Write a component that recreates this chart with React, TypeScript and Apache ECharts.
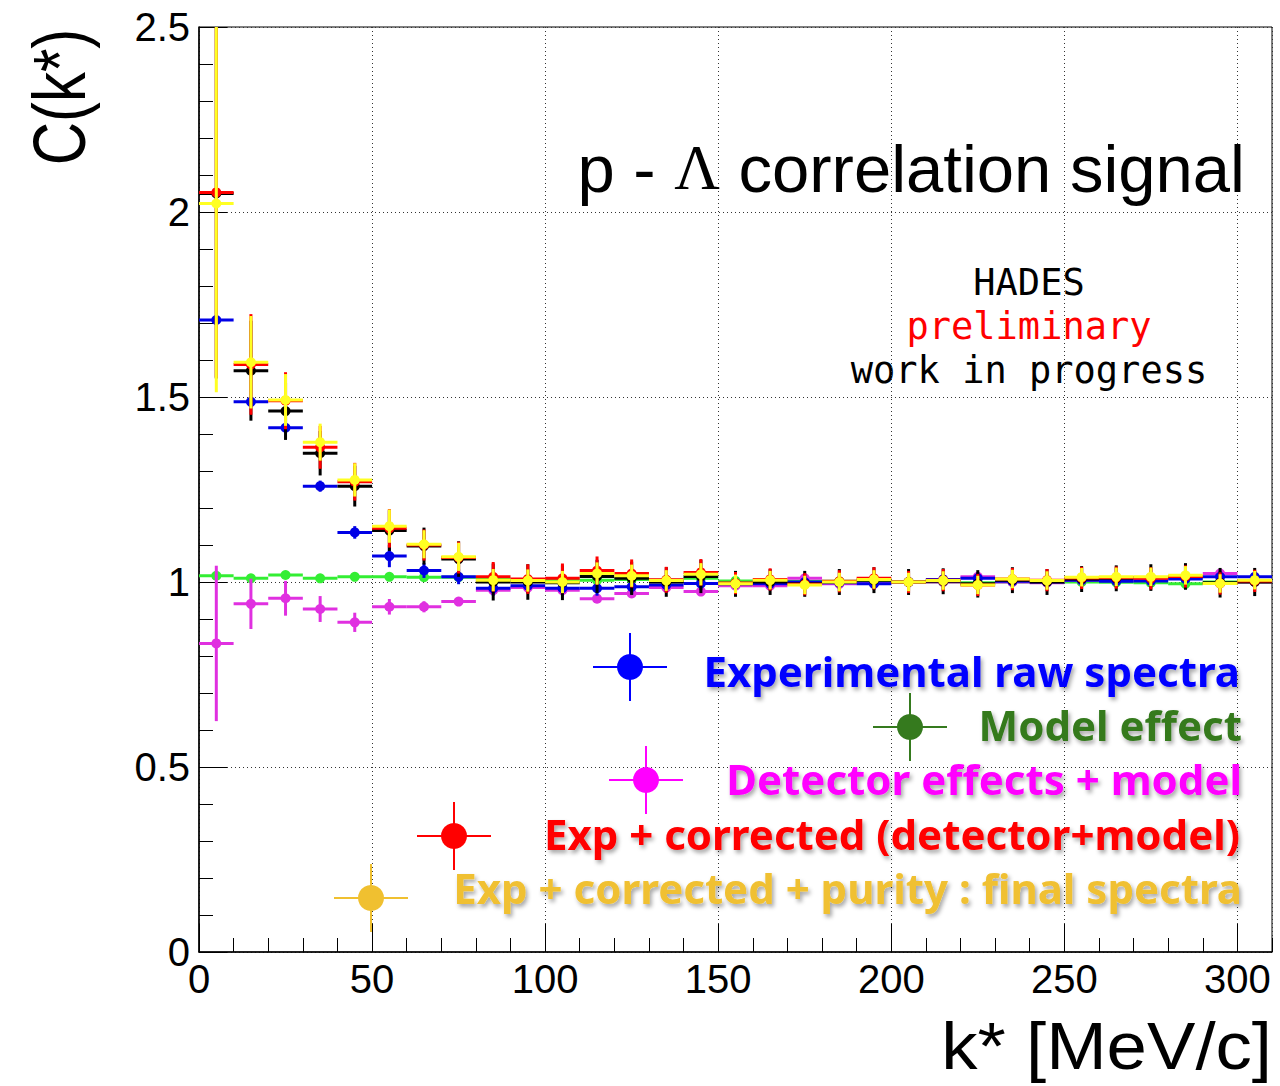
import React, { useEffect, useRef } from "react";
import * as echarts from "echarts";

// ---------- data ----------
const kStar = [5, 15, 25, 35, 45, 55, 65, 75, 85, 95, 105, 115, 125, 135, 145, 155, 165, 175, 185, 195, 205, 215, 225, 235, 245, 255, 265, 275, 285, 295, 305];

const modelC = [1.017, 1.010, 1.019, 1.010, 1.014, 1.014, 1.013, 1.013, 1.008, 1.006, 1.005, 1.005, 1.007, 1.005, 1.010, 1.003, 1.000, 1.002, 1.002, 0.998, 1.000, 1.000, 0.998, 1.000, 1.000, 1.000, 0.999, 0.998, 0.995, 1.000, 1.000];
const modelErr = [0.004, 0.003, 0.003, 0.003, 0.003, 0.003, 0.003, 0.003, 0.003, 0.003, 0.003, 0.003, 0.003, 0.003, 0.003, 0.003, 0.003, 0.003, 0.003, 0.003, 0.003, 0.003, 0.003, 0.003, 0.003, 0.003, 0.003, 0.003, 0.003, 0.003, 0.003];

const detC = [0.834, 0.941, 0.956, 0.927, 0.891, 0.933, 0.933, 0.947, 0.978, 0.985, 0.978, 0.955, 0.969, 0.985, 0.974, 0.990, 0.990, 1.010, 0.995, 0.996, 1.000, 1.000, 1.014, 1.000, 0.998, 1.005, 1.005, 1.008, 1.012, 1.023, 1.000];
const detErr = [0.21, 0.068, 0.047, 0.035, 0.026, 0.021, 0.015, 0.012, 0.010, 0.010, 0.010, 0.010, 0.010, 0.010, 0.010, 0.010, 0.010, 0.010, 0.010, 0.010, 0.010, 0.010, 0.010, 0.010, 0.010, 0.010, 0.010, 0.010, 0.010, 0.010, 0.010];

const rawC = [1.708, 1.487, 1.417, 1.259, 1.134, 1.070, 1.031, 1.014, 0.983, 0.990, 0.983, 0.983, 0.987, 0.992, 0.996, 0.995, 0.995, 1.000, 0.998, 0.995, 1.000, 1.007, 1.010, 1.002, 1.000, 1.005, 1.002, 1.003, 1.008, 1.014, 1.014];
const rawErr = [0.012, 0.012, 0.015, 0.015, 0.017, 0.03, 0.02, 0.02, 0.02, 0.02, 0.02, 0.02, 0.02, 0.018, 0.018, 0.016, 0.016, 0.016, 0.016, 0.016, 0.016, 0.016, 0.016, 0.016, 0.016, 0.016, 0.016, 0.016, 0.016, 0.016, 0.016];

const blackC = [2.05, 1.571, 1.462, 1.348, 1.259, 1.139, 1.097, 1.062, 1.000, 1.000, 0.998, 1.015, 1.010, 1.000, 1.015, 0.995, 1.000, 0.995, 1.000, 1.005, 1.000, 1.002, 0.995, 1.005, 1.000, 1.008, 1.010, 1.012, 1.015, 0.998, 1.000];
const blackErr = [0.5, 0.135, 0.078, 0.06, 0.055, 0.055, 0.05, 0.048, 0.05, 0.048, 0.047, 0.045, 0.045, 0.04, 0.045, 0.035, 0.035, 0.035, 0.035, 0.035, 0.035, 0.035, 0.037, 0.035, 0.035, 0.035, 0.035, 0.036, 0.036, 0.04, 0.038];

const corrC = [2.053, 1.588, 1.490, 1.364, 1.271, 1.145, 1.100, 1.066, 1.014, 1.008, 1.010, 1.031, 1.023, 1.006, 1.026, 0.997, 1.007, 0.994, 1.002, 1.010, 1.000, 1.005, 0.992, 1.008, 1.005, 1.011, 1.012, 1.010, 1.015, 0.996, 1.003];
const corrErr = [0.5, 0.136, 0.077, 0.058, 0.051, 0.052, 0.042, 0.043, 0.04, 0.04, 0.04, 0.038, 0.038, 0.035, 0.036, 0.03, 0.03, 0.03, 0.03, 0.03, 0.03, 0.03, 0.03, 0.03, 0.03, 0.03, 0.03, 0.03, 0.03, 0.03, 0.03];

const finalC = [2.023, 1.594, 1.492, 1.378, 1.276, 1.151, 1.102, 1.068, 1.005, 1.004, 1.000, 1.023, 1.017, 1.004, 1.021, 0.995, 1.005, 0.992, 1.000, 1.007, 1.000, 1.004, 0.992, 1.008, 1.004, 1.013, 1.014, 1.014, 1.018, 0.996, 1.005];
const finalErr = [0.51, 0.125, 0.07, 0.05, 0.045, 0.045, 0.038, 0.038, 0.03, 0.03, 0.03, 0.03, 0.03, 0.028, 0.03, 0.025, 0.025, 0.025, 0.025, 0.025, 0.025, 0.025, 0.025, 0.025, 0.025, 0.025, 0.025, 0.025, 0.025, 0.025, 0.025];

const legendLabels = [
  "Experimental raw spectra",
  "Model effect",
  "Detector effects + model",
  "Exp + corrected (detector+model)",
  "Exp + corrected + purity : final spectra",
];

// ---------- constants ----------
const BIN_HALF = 5;
const X_MIN = 0;
const X_MAX = 310;
const Y_MIN = 0;
const Y_MAX = 2.5;

function build(xs: number[], ys: number[], es: number[]) {
  return xs.map((x, i) => [x, ys[i], es[i]]);
}

function makeRender(color: string, r: number, lw: number) {
  return (params: any, api: any) => {
    const x = api.value(0);
    const y = api.value(1);
    const e = api.value(2);
    const hi = Math.min(y + e, Y_MAX);
    const lo = Math.max(y - e, Y_MIN);
    const l = api.coord([x - BIN_HALF, y]);
    const rr = api.coord([x + BIN_HALF, y]);
    const t = api.coord([x, hi]);
    const b = api.coord([x, lo]);
    const c = api.coord([x, y]);
    return {
      type: "group",
      children: [
        { type: "line", shape: { x1: l[0], y1: l[1], x2: rr[0], y2: rr[1] }, style: { stroke: color, lineWidth: lw } },
        { type: "line", shape: { x1: t[0], y1: t[1], x2: b[0], y2: b[1] }, style: { stroke: color, lineWidth: lw } },
        { type: "circle", shape: { cx: c[0], cy: c[1], r }, style: { fill: color } },
      ],
    };
  };
}

function errSeries(name: string, data: number[][], color: string, z: number) {
  return {
    name,
    type: "custom",
    xAxisIndex: 0,
    yAxisIndex: 0,
    silent: true,
    z,
    encode: { x: 0, y: 1 },
    data,
    renderItem: makeRender(color, 5, 3),
  };
}

function legendItem(label: string, color: string, mx: number, my: number, tx: number, ty: number) {
  return [
    { type: "line", shape: { x1: mx - 37, y1: my, x2: mx + 37, y2: my }, style: { stroke: color, lineWidth: 2 }, z: 100 },
    { type: "line", shape: { x1: mx, y1: my - 34, x2: mx, y2: my + 34 }, style: { stroke: color, lineWidth: 2 }, z: 100 },
    { type: "circle", shape: { cx: mx, cy: my, r: 13 }, style: { fill: color }, z: 100 },
    {
      type: "text",
      x: tx,
      y: ty,
      z: 100,
      style: {
        text: label,
        fill: color,
        fontSize: 42,
        fontWeight: "bold",
        fontFamily: "Noto Sans",
        align: "right",
        verticalAlign: "middle",
        textShadowColor: "rgba(0,0,0,0.35)",
        textShadowBlur: 4,
        textShadowOffsetX: 2,
        textShadowOffsetY: 3,
      },
    },
  ];
}

export default function App() {
  const ref = useRef<HTMLDivElement>(null);
  useEffect(() => {
    if (!ref.current) return;
    const chart = echarts.init(ref.current, null, { renderer: "svg" });
    const axisFont = { fontSize: 40, color: "#000", fontFamily: "Liberation Sans" };
    const option: any = {
      animation: false,
      backgroundColor: "#fff",
      grid: { left: 199, top: 27, right: 8, bottom: 134, show: true, borderColor: "#000", borderWidth: 1, backgroundColor: "transparent" },
      xAxis: [
        {
          type: "value",
          min: X_MIN,
          max: X_MAX,
          interval: 10,
          position: "bottom",
          axisLine: { show: true, lineStyle: { color: "#000", width: 1.5 } },
          axisTick: { show: true, inside: true, length: 14, lineStyle: { color: "#000", width: 1 } },
          axisLabel: { show: false },
          splitLine: { show: false },
        },
        {
          type: "value",
          min: X_MIN,
          max: X_MAX,
          interval: 50,
          position: "bottom",
          axisLine: { show: false },
          axisTick: { show: true, inside: true, length: 28, lineStyle: { color: "#000", width: 1 } },
          axisLabel: { show: true, showMaxLabel: false, margin: 7, ...axisFont },
          splitLine: { show: true, lineStyle: { color: "#333", width: 1, type: [1, 3] } },
        },
      ],
      yAxis: [
        {
          type: "value",
          min: Y_MIN,
          max: Y_MAX,
          interval: 0.5,
          axisLine: { show: true, lineStyle: { color: "#000", width: 1.5 } },
          axisTick: { show: true, inside: true, length: 28, lineStyle: { color: "#000", width: 1 } },
          minorTick: { show: true, splitNumber: 5, length: 14, lineStyle: { color: "#000", width: 1 } },
          axisLabel: { show: true, margin: 9, ...axisFont },
          splitLine: { show: true, lineStyle: { color: "#333", width: 1, type: [1, 3] } },
        },
      ],
      series: [
        errSeries("Model effect", build(kStar, modelC, modelErr), "#33ee33", 2),
        errSeries("Detector effects + model", build(kStar, detC, detErr), "#e030e0", 3),
        errSeries("Experimental raw spectra", build(kStar, rawC, rawErr), "#0000e6", 4),
        errSeries("Exp corrected (black)", build(kStar, blackC, blackErr), "#000000", 5),
        errSeries("Exp + corrected (detector+model)", build(kStar, corrC, corrErr), "#ff0000", 6),
        errSeries("Exp + corrected + purity : final spectra", build(kStar, finalC, finalErr), "#ffff22", 7),
      ],
      graphic: [
        {
          type: "text",
          x: 59,
          y: 97,
          rotation: Math.PI / 2,
          scaleY: 1.22,
          style: { text: "C(k*)", fontSize: 60, fontFamily: "Liberation Sans", fill: "#000", align: "center", verticalAlign: "middle" },
        },
        {
          type: "text",
          x: 1272,
          y: 1046,
          scaleX: 1.1,
          style: { text: "k* [MeV/c]", fontSize: 66, fontFamily: "Liberation Sans", fill: "#000", align: "right", verticalAlign: "middle" },
        },
        {
          type: "text",
          x: 1245,
          y: 168,
          z: 50,
          style: {
            text: "{a|p - }{b|Λ}{a| correlation signal}",
            align: "right",
            verticalAlign: "middle",
            rich: {
              a: { fontSize: 67, fontFamily: "Liberation Sans", fill: "#000", color: "#000" },
              b: { fontSize: 63, fontFamily: "Liberation Serif", fill: "#000", color: "#000" },
            },
          },
        },
        {
          type: "text",
          x: 1029,
          y: 282,
          style: { text: "HADES", fontSize: 37, fontFamily: "DejaVu Sans Mono", fill: "#000", align: "center", verticalAlign: "middle" },
        },
        {
          type: "text",
          x: 1029,
          y: 326,
          style: { text: "preliminary", fontSize: 37, fontFamily: "DejaVu Sans Mono", fill: "#ff0000", align: "center", verticalAlign: "middle" },
        },
        {
          type: "text",
          x: 1029,
          y: 370,
          style: { text: "work in progress", fontSize: 37, fontFamily: "DejaVu Sans Mono", fill: "#000", align: "center", verticalAlign: "middle" },
        },
        ...legendItem(legendLabels[0], "#0000ff", 630, 667, 1240, 670),
        ...legendItem(legendLabels[1], "#357a1e", 910, 727, 1242, 724),
        ...legendItem(legendLabels[2], "#ff00ff", 646, 780, 1242, 778),
        ...legendItem(legendLabels[3], "#ff0000", 454, 836, 1240, 833),
        ...legendItem(legendLabels[4], "#f0c030", 371, 898, 1242, 887),
      ],
    };
    chart.setOption(option);
    return () => chart.dispose();
  }, []);
  return <div ref={ref} style={{ position: "absolute", left: 0, top: 0, width: 1280, height: 1086 }} />;
}
